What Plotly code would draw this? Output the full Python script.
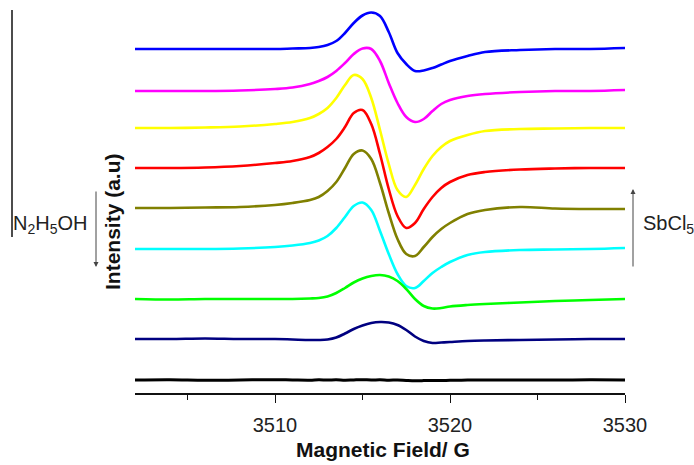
import plotly.graph_objects as go

# Magnetic field sample positions (G)
field = [3502, 3504, 3506, 3508, 3510, 3511, 3512, 3512.5, 3513, 3513.5, 3514,
         3514.5, 3515, 3515.5, 3516, 3516.5, 3517, 3517.5, 3518, 3518.5, 3519,
         3519.5, 3520, 3521, 3522, 3524, 3526, 3528, 3530]

# Stacked EPR intensities (a.u.), top spectrum first
blue = [351, 351, 351, 351, 351, 351.5, 352, 353, 355, 359, 367, 377, 384.5, 387.5,
        384, 368, 347, 336, 329, 329.5, 332, 335.5, 339, 344, 348, 350, 351, 351, 352]
magenta = [309, 309, 309, 309.5, 311, 312.5, 316, 319, 323, 329, 337, 346, 351.5, 351,
           339, 317, 297, 283, 278, 281, 289, 296, 300, 304, 306, 308, 309, 309, 310]
yellow = [272, 272, 272.5, 273.5, 276, 278, 282, 286, 292, 302, 315, 325, 321, 302,
          270, 236, 210, 203, 215, 231, 244, 253, 259, 265, 269, 271, 271.5, 272, 272]
red = [232, 232, 232.5, 234, 237, 239, 243, 247, 253, 261, 273, 287, 290, 276,
       246, 211, 184, 172, 177, 191, 203, 212, 218, 225, 228, 230.5, 231.5, 232, 232]
olive = [192, 192, 192.5, 193, 195, 197, 200, 203, 209, 218, 232, 246, 249.5, 241,
         217, 187, 161, 146, 144, 153, 163, 171, 177, 186, 190, 193, 191.5, 191, 191]
cyan = [151, 151, 151, 151.5, 153, 154.5, 157, 159.5, 164, 172, 183, 194, 197.5, 190,
        169, 146, 126, 114, 112, 119, 127, 133, 138, 145, 148, 150, 150.5, 151, 152]
green = [101, 100.5, 101, 101, 101, 101, 101.5, 102, 103.5, 107, 112, 117.5, 121.5, 124,
         125, 123.5, 119, 111, 101, 94, 91.5, 92, 93.5, 95, 96, 97.5, 99, 100, 101]
navy = [61, 61, 61.5, 61, 61, 60.5, 60, 60, 60.5, 62.5, 66.5, 71, 74.5, 77,
        78, 77.5, 75, 70, 63.5, 59, 57, 57.5, 58, 59, 59.5, 60, 60.5, 61, 61]
black = [20, 20.3, 19.7, 20, 20.3, 20, 19.8, 20.2, 20, 20.2, 19.8, 20.1, 20.3, 20,
         20.2, 19.8, 20, 19.6, 19.3, 19.4, 19.6, 19.5, 19.7, 19.9, 20, 20.1, 19.9, 20.2, 20]

series = [blue, magenta, yellow, red, olive, cyan, green, navy, black]
colors = ["#0000FF", "#FF00FF", "#FFFF00", "#FF0000", "#808000",
          "#00FFFF", "#00FF00", "#000080", "#000000"]

x_ticks = [3510, 3520, 3530]

fig = go.Figure()
for vals, col in zip(series, colors):
    fig.add_trace(go.Scatter(x=field, y=vals, mode="lines",
                             line=dict(color=col, width=3 if col == "#000000" else 2.6,
                                       shape="spline", smoothing=1.0),
                             showlegend=False, hoverinfo="skip"))

font_family = "Liberation Sans, Arial, sans-serif"

fig.update_layout(
    width=694, height=465,
    margin=dict(l=135, r=69, t=0, b=72),
    paper_bgcolor="white", plot_bgcolor="white",
    font=dict(family=font_family, color="#111111"),
    xaxis=dict(range=[3502, 3530], showgrid=False, zeroline=False,
               showline=True, linecolor="#111111", linewidth=1.6,
               ticks="outside", ticklen=8, tickwidth=1.4, tickcolor="#111111",
               tickvals=x_ticks, ticktext=[str(t) for t in x_ticks],
               tickfont=dict(size=20, color="#222222"),
               ticklabelstandoff=5,
               minor=dict(tickvals=[3505, 3515, 3525], ticks="outside",
                          ticklen=5, tickwidth=1.4, tickcolor="#111111")),
    yaxis=dict(range=[7, 400], visible=False, showgrid=False, zeroline=False),
)

annotations = [
    dict(text="<b>Magnetic Field/ G</b>", x=0.506, y=(393 - 449) / 393,
         xref="paper", yref="paper", showarrow=False, xanchor="center",
         yanchor="middle", font=dict(size=21, color="#111111")),
    dict(text="<b>Intensity (a.u)</b>", x=(112 - 135) / 490, y=(393 - 222) / 393,
         xref="paper", yref="paper", showarrow=False, textangle=-90,
         xanchor="center", yanchor="middle", font=dict(size=21, color="#111111")),
    dict(text="N<sub>2</sub>H<sub>5</sub>OH", x=(11 - 135) / 490, y=(393 - 224) / 393,
         xref="paper", yref="paper", showarrow=False, xanchor="left",
         yanchor="middle", font=dict(size=20, color="#222222")),
    dict(text="SbCl<sub>5</sub>", x=(641 - 135) / 490, y=(393 - 224) / 393,
         xref="paper", yref="paper", showarrow=False, xanchor="left",
         yanchor="middle", font=dict(size=20, color="#222222")),
    dict(text="", x=(96 - 135) / 490, y=(393 - 267) / 393, xref="paper", yref="paper",
         showarrow=True, ax=0, ay=-77, arrowhead=2, arrowsize=1, arrowwidth=1,
         arrowcolor="#444444"),
    dict(text="", x=(633 - 135) / 490, y=(393 - 189) / 393, xref="paper", yref="paper",
         showarrow=True, ax=0, ay=79, arrowhead=2, arrowsize=1, arrowwidth=1,
         arrowcolor="#444444"),
]
fig.update_layout(annotations=annotations)

fig.add_shape(type="line", xref="paper", yref="paper",
              x0=(12 - 135) / 490, x1=(12 - 135) / 490,
              y0=(393 - 237) / 393, y1=(393 - 10) / 393,
              line=dict(color="#111111", width=1.5))

fig.write_html("out.html")
